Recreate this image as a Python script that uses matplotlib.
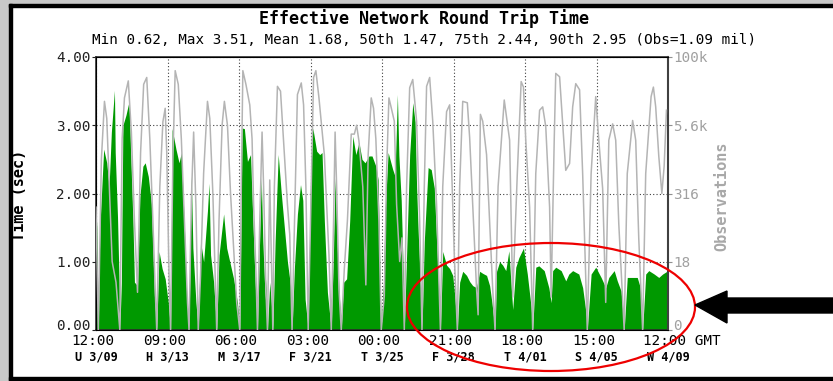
import matplotlib
matplotlib.use("Agg")
import matplotlib.pyplot as plt
from matplotlib.patches import Ellipse, Polygon, Rectangle
from matplotlib.ticker import NullLocator
from matplotlib.transforms import offset_copy, ScaledTranslation

# round trip time (green area), hours since 3/09 12:00 GMT
rtt_hours = [0, 1, 3, 5, 10, 14, 17, 20, 24, 25, 28, 30, 31, 33, 35, 39, 43, 45, 48, 50,
             54, 57, 61, 64, 68, 72, 76, 79, 82, 86, 90, 94, 97, 99, 104, 108, 111, 115, 118, 121,
             124, 126, 130, 133, 136, 140, 145, 147, 149, 153, 157, 160, 166, 170, 175, 179, 184, 187, 190, 193,
             197, 201, 204, 207, 210, 213, 215, 217, 220, 221, 223, 226, 228, 230, 233, 237, 241, 245, 249, 253,
             255, 258, 262, 266, 269, 272, 276, 279, 282, 287, 291, 294, 297, 301, 306, 309, 311, 313, 316, 319,
             322, 326, 330, 334, 338, 342, 346, 350, 355, 359, 364, 367, 369, 371, 374, 376, 380, 386, 389, 392,
             394, 397, 400, 401, 404, 408, 412, 415, 417, 419, 422, 424, 427, 432, 436, 440, 443, 445, 448, 451,
             456, 460, 464, 467, 470, 473, 477, 482, 486, 490, 495, 499, 503, 508, 512, 515, 519, 521, 525, 529,
             533, 537, 542, 546, 550, 556, 561, 566, 568, 572, 576, 583, 589, 592, 594, 598, 605, 611, 615, 620,
             628, 633, 638, 639, 644, 650, 657, 663, 667, 674, 678, 683, 687, 691, 698, 704, 708, 711, 715, 719,
             726, 732, 737, 744]
rtt_sec = [1.80, 1.50, 0.00, 1.50, 2.65, 2.45, 2.10, 2.90, 3.51, 2.60, 1.65, 0.70, 0.00, 0.70, 3.00, 3.15, 3.35, 2.60, 1.60, 0.70,
           0.65, 1.95, 2.40, 2.45, 2.25, 1.85, 0.50, 0.00, 1.15, 0.90, 0.75, 0.40, 0.00, 2.95, 2.65, 2.45, 2.60, 1.50, 0.50, 0.00,
           2.25, 1.20, 0.40, 0.00, 1.30, 1.00, 1.75, 2.15, 1.10, 0.70, 0.00, 1.10, 1.70, 1.20, 0.95, 0.75, 0.40, 0.00, 2.96, 2.95,
           2.47, 2.57, 1.60, 0.70, 0.00, 1.40, 2.23, 1.30, 0.45, 0.75, 0.00, 0.70, 0.40, 0.00, 1.30, 2.57, 2.00, 1.50, 1.00, 0.65,
           0.00, 0.90, 1.70, 2.13, 1.90, 0.45, 0.00, 2.20, 2.96, 2.62, 2.57, 2.60, 1.60, 0.55, 0.00, 1.20, 2.23, 1.45, 0.60, 0.00,
           0.70, 0.75, 1.60, 2.84, 2.57, 2.75, 2.50, 2.45, 2.55, 2.55, 2.40, 2.20, 1.00, 0.00, 0.70, 1.74, 2.60, 2.35, 2.25, 3.45,
           2.55, 1.90, 0.70, 0.00, 1.10, 2.57, 3.33, 3.05, 2.10, 1.45, 0.67, 0.00, 1.30, 2.38, 2.35, 2.08, 1.30, 0.80, 0.00, 1.15,
           0.95, 0.90, 0.80, 0.45, 0.00, 0.70, 0.86, 0.80, 0.71, 0.65, 0.62, 0.86, 0.83, 0.80, 0.65, 0.40, 0.00, 0.86, 1.00, 0.95,
           0.87, 1.16, 0.30, 0.92, 1.06, 1.20, 0.82, 0.33, 0.00, 0.92, 0.94, 0.87, 0.62, 0.40, 0.87, 0.92, 0.87, 0.72, 0.82, 0.87,
           0.82, 0.62, 0.20, 0.00, 0.82, 0.92, 0.77, 0.62, 0.77, 0.87, 0.72, 0.57, 0.00, 0.77, 0.77, 0.77, 0.62, 0.00, 0.82, 0.87,
           0.82, 0.77, 0.82, 0.87]

# observations per sample (gray line, right log axis)
obs_hours = [0, 3, 7, 11, 14, 17, 21, 26, 31, 34, 37, 42, 46, 50, 54, 58, 62, 66, 70, 74,
             77, 79, 83, 87, 90, 92, 95, 97, 100, 103, 107, 111, 115, 119, 121, 124, 127, 130, 133, 136,
             140, 145, 148, 152, 155, 157, 160, 164, 167, 171, 175, 179, 183, 187, 189, 191, 195, 200, 203, 205,
             208, 210, 213, 216, 218, 221, 223, 226, 228, 230, 232, 236, 240, 245, 249, 252, 255, 258, 262, 267,
             270, 273, 276, 279, 283, 286, 290, 297, 303, 306, 309, 311, 313, 316, 319, 323, 327, 332, 336, 339,
             342, 347, 351, 354, 358, 361, 364, 368, 371, 375, 378, 381, 384, 388, 391, 395, 398, 401, 404, 408,
             412, 417, 421, 424, 427, 430, 434, 438, 443, 448, 451, 456, 460, 462, 466, 470, 473, 477, 483, 486,
             490, 495, 497, 500, 503, 508, 512, 516, 519, 523, 531, 538, 542, 548, 553, 556, 559, 564, 568, 572,
             577, 581, 585, 590, 592, 596, 598, 603, 607, 611, 616, 620, 624, 629, 633, 639, 644, 650, 654, 659,
             663, 667, 672, 676, 680, 687, 691, 698, 702, 706, 711, 715, 722, 725, 728, 732, 736, 739, 742]
obs_count = [178, 1, 1330, 15400, 7500, 560, 18, 7.5, 1, 3160, 17800, 36500, 4220, 100, 4.9, 1780, 31600, 42200, 3160, 100,
             5.6, 1, 420, 6490, 11500, 1780, 10, 1, 1330, 56200, 31600, 3160, 100, 3.2, 1, 237, 4220, 178, 1, 10,
             750, 15400, 7500, 316, 10, 1, 100, 5620, 15400, 5620, 316, 32, 3.2, 1, 420, 56200, 31600, 13300, 3160, 200,
             11.9, 1, 100, 4220, 420, 5.6, 1, 560, 24, 1, 420, 29000, 23700, 1630, 200, 56, 1, 75, 20500, 33500,
             13300, 420, 1, 100, 42200, 56200, 17800, 1630, 24, 1, 100, 4220, 420, 5.6, 1, 13.3, 100, 3870, 3870, 5620,
             2900, 420, 6.7, 1630, 17800, 11500, 3160, 100, 1, 4.2, 820, 17800, 11800, 6680, 200, 18, 48.7, 1, 420, 27400,
             38700, 6680, 100, 1, 420, 29000, 42200, 6680, 200, 1, 420, 10000, 13300, 1630, 24, 1, 420, 15400, 14500, 3350,
             200, 5.6, 1.9, 8900, 6680, 1630, 100, 5.6, 1, 420, 16300, 2990, 4.0, 730, 35500, 28100, 2990, 178, 1, 730,
             10600, 12200, 5300, 178, 4.0, 2990, 50100, 43400, 5960, 840, 1120, 12200, 32500, 25100, 730, 1, 730, 18800, 2990, 390,
             3.2, 2990, 5960, 2990, 87, 1, 730, 6880, 2990, 46, 1, 730, 18800, 28100, 12200, 1540, 316, 1000, 10600]

tick_hours = [0, 93, 186, 279, 372, 465, 558, 651, 744]
tick_times = ["12:00", "09:00", "06:00", "03:00", "00:00", "21:00", "18:00", "15:00", "12:00 GMT"]
tick_days = ["U 3/09", "H 3/13", "M 3/17", "F 3/21", "T 3/25", "F 3/28", "T 4/01", "S 4/05", "W 4/09"]

rtt_ticks = [0, 1, 2, 3, 4]
rtt_tick_labels = ["0.00", "1.00", "2.00", "3.00", "4.00"]
obs_ticks = [1, 17.78, 316.2, 5623, 100000]
obs_tick_labels = ["0", "18", "316", "5.6k", "100k"]

title = "Effective Network Round Trip Time"
subtitle = "Min 0.62, Max 3.51, Mean 1.68, 50th 1.47, 75th 2.44, 90th 2.95 (Obs=1.09 mil)"

MONO = "DejaVu Sans Mono"
W, H = 833, 381


def fx(px):
    return px / W


def fy(py):
    return 1 - py / H


fig = plt.figure(figsize=(W / 100, H / 100), dpi=100)
fig.patch.set_facecolor("white")

# screenshot frame
fig.patches.append(Rectangle((0, 0), fx(9), 1, transform=fig.transFigure, color="#c8c8c8", zorder=0))
fig.patches.append(Rectangle((0, fy(4)), 1, 4 / H, transform=fig.transFigure, color="#c8c8c8", zorder=0))
fig.patches.append(Rectangle((fx(9), 0), fx(2.5), fy(4), transform=fig.transFigure, color="black", zorder=1))
fig.patches.append(Rectangle((fx(9), fy(7)), 1, 3 / H, transform=fig.transFigure, color="black", zorder=1))
fig.patches.append(Rectangle((fx(9), fy(380)), 1, 3 / H, transform=fig.transFigure, color="black", zorder=1))

ax = fig.add_axes([fx(96), fy(330), fx(668) - fx(96), fy(57) - fy(330)])
ax.set_xlim(0, 744)
ax.set_ylim(0, 4)
ax.fill_between(rtt_hours, rtt_sec, 0, color="#009900", lw=0, zorder=2)
ax.set_axisbelow(True)
ax.grid(True, color="#404040", linestyle=(0, (1, 2)), linewidth=0.8)
ax.set_xticks(tick_hours)
ax.set_xticklabels([])
ax.tick_params(axis="x", length=0)
ax.set_yticks(rtt_ticks)
ax.set_yticklabels(rtt_tick_labels, family=MONO, fontsize=10.3, color="#202020")
ax.tick_params(axis="y", length=3, pad=1, color="#202020")
for s in ax.spines.values():
    s.set_color("#303030")
    s.set_linewidth(1.2)

ax2 = ax.twinx()
ax2.set_yscale("log")
ax2.set_ylim(1, 100000)
ax2.plot(obs_hours, obs_count, color="#b4b4b4", lw=1.1, zorder=3)
ax2.set_yticks(obs_ticks)
ax2.set_yticklabels(obs_tick_labels, family=MONO, fontsize=10.3, color="#a0a0a0")
ax2.yaxis.set_minor_locator(NullLocator())
ax2.tick_params(axis="y", length=3, pad=1, color="#909090")
ax2.spines["right"].set_color("#404040")
ax2.spines["right"].set_linewidth(1.5)

# the bottom labels sit a little above the baseline, as in the source chart
lift = ScaledTranslation(0, 6 / 100, fig.dpi_scale_trans)
for lab in (ax.get_yticklabels()[0], ax2.get_yticklabels()[0]):
    lab.set_transform(lab.get_transform() + lift)

# two-line x labels
trans = ax.get_xaxis_transform()
for h, t, d in zip(tick_hours, tick_times, tick_days):
    if t.endswith("GMT"):
        tr = offset_copy(trans, fig=fig, x=-25, y=0, units="dots")
        ax.text(h, -11 / 273, t, transform=tr, ha="left", va="center", family=MONO, fontsize=10.3)
    else:
        tr = offset_copy(trans, fig=fig, x=-3, y=0, units="dots")
        ax.text(h, -11 / 273, t, transform=tr, ha="center", va="center", family=MONO, fontsize=10.3)
    ax.text(h, -26.5 / 273, d, transform=trans, ha="center", va="center", family=MONO,
            fontsize=8.5, weight="bold")

fig.text(fx(424), fy(19), title, ha="center", va="center", family=MONO, fontsize=12, weight="bold")
fig.text(fx(424), fy(40), subtitle, ha="center", va="center", family=MONO, fontsize=10.3)
fig.text(fx(19.5), fy(195), "Time (sec)", rotation=90, ha="center", va="center", family=MONO,
         fontsize=11, weight="bold")
fig.text(fx(722), fy(196), "Observations", rotation=90, ha="center", va="center", family=MONO,
         fontsize=11, weight="bold", color="#a8a8a8")

# annotation: red ellipse and black arrow
fig.patches.append(Ellipse((fx(551), fy(307)), fx(288), 128 / H, transform=fig.transFigure,
                           fill=False, edgecolor="#ee0000", lw=1.6, zorder=10))
arrow_px = [(695, 305), (727, 291), (727, 298), (833, 298), (833, 313), (727, 313), (727, 323)]
fig.patches.append(Polygon([(fx(x), fy(y)) for x, y in arrow_px], closed=True, transform=fig.transFigure,
                           color="black", zorder=10))

fig.savefig("out.png", dpi=100)
